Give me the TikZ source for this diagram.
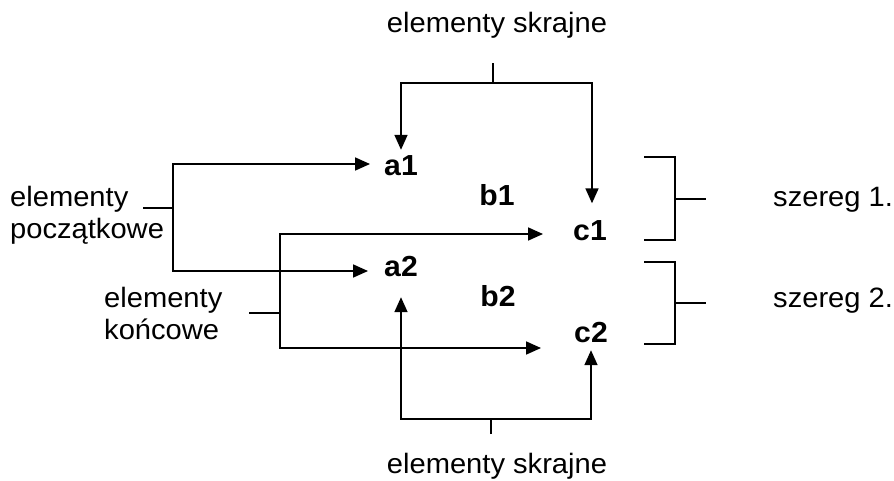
\documentclass[tikz,border=0pt]{standalone}
\usepackage{fontspec}
\setmainfont{Liberation Sans}[FakeStretch=1.04]
\usetikzlibrary{arrows.meta,calc}
\tikzset{
  ln/.style={line width=1.7pt},
  arr/.style={line width=1.7pt,-{Triangle[length=15pt,width=13pt]}},
  txt/.style={inner sep=0pt,font=\fontsize{28}{32}\selectfont,align=left},
  lbl/.style={inner sep=0pt,font=\fontsize{29}{32}\selectfont\bfseries,text height=19pt,text depth=0pt},
}
\begin{document}
\begin{tikzpicture}[x=1pt,y=-1pt]
\useasboundingbox (0,0) rectangle (894,480);
% letters
\node[lbl] (a1) at (401,165.5) {a1};
\node[lbl] (b1) at (497,196) {b1};
\node[lbl] (c1) at (590,231) {c1};
\node[lbl] (a2) at (401,266.5) {a2};
\node[lbl] (b2) at (498,297) {b2};
\node[lbl] (c2) at (591,332.5) {c2};
% labels
\node[txt,anchor=base] (est) at (497,32) {elementy skrajne};
\node[txt,anchor=base] (esb) at (497,473) {elementy skrajne};
\node[txt,anchor=base west] (ep) at (10,238) {elementy\\początkowe};
\node[txt,anchor=base west] (ek) at (104,339) {elementy\\końcowe};
\node[txt,anchor=base west] (s1) at (773,206) {szereg 1.};
\node[txt,anchor=base west] (s2) at (773,307) {szereg 2.};
% top extreme
\coordinate (tt) at (493,63);
\coordinate (tj) at (493,83);
\draw[ln] (tt) -- (tj);
\draw[arr,shorten >=6pt] (tj) -| (a1.north);
\draw[arr,shorten >=18pt] (tj) -| ([xshift=2pt]c1.north);
% bottom extreme
\coordinate (bt) at (491,434);
\coordinate (bj) at (491,419);
\draw[ln] (bt) -- (bj);
\draw[arr,shorten >=21pt] (bj) -| (a2.south);
\draw[arr,shorten >=8pt] (bj) -| (c2.south);
% initial elements
\coordinate (ps) at (143,208);
\coordinate (pj) at (173,208);
\draw[ln] (ps) -- (pj);
\draw[arr,shorten >=14pt] (pj) |- ([yshift=1.5pt]a1.west);
\draw[arr,shorten >=16pt] (pj) |- ([yshift=-4.5pt]a2.west);
% final elements
\coordinate (ks) at (249,313);
\coordinate (kj) at (280,313);
\draw[ln] (ks) -- (kj);
\draw[arr,shorten >=30pt] (kj) |- ([yshift=-3pt]c1.west);
\draw[arr,shorten >=33pt] (kj) |- ([yshift=-15.5pt]c2.west);
% series brackets
\coordinate (r1t) at (644,157);
\coordinate (r1b) at (644,240);
\coordinate (r1m) at (675,199);
\coordinate (r1s) at (706,199);
\draw[ln] (r1t) -| (r1m) |- (r1b);
\draw[ln] (r1m) -- (r1s);
\coordinate (r2t) at (644,262);
\coordinate (r2b) at (644,344);
\coordinate (r2m) at (675,303);
\coordinate (r2s) at (706,303);
\draw[ln] (r2t) -| (r2m) |- (r2b);
\draw[ln] (r2m) -- (r2s);
\end{tikzpicture}
\end{document}
